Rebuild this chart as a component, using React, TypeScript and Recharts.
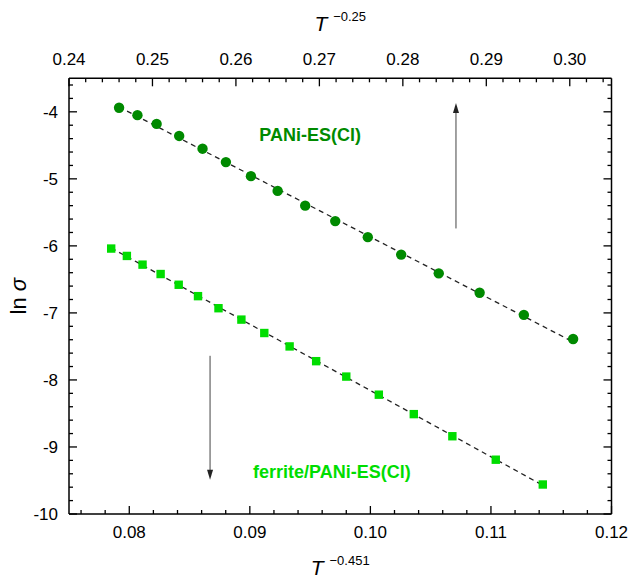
import React from 'react';
import {
  ScatterChart,
  Scatter,
  XAxis,
  YAxis,
  ReferenceLine,
  ReferenceDot
} from 'recharts';

// PANi-ES(Cl): T^-0.25 (top axis) vs ln sigma
const paniX = [0.2460, 0.2482, 0.2505, 0.2532, 0.2560, 0.2588, 0.2618, 0.2650, 0.2683, 0.2719, 0.2758, 0.2798, 0.2843, 0.2892, 0.2945, 0.3004];
const paniY = [-3.94, -4.05, -4.18, -4.36, -4.55, -4.75, -4.96, -5.18, -5.40, -5.63, -5.87, -6.13, -6.41, -6.70, -7.03, -7.39];

// ferrite/PANi-ES(Cl): T^-0.451 (bottom axis) vs ln sigma
const ferriteX = [0.0785, 0.0798, 0.0811, 0.0826, 0.0841, 0.0857, 0.0874, 0.0893, 0.0912, 0.0933, 0.0955, 0.0980, 0.1007, 0.1036, 0.1068, 0.1104, 0.1143];
const ferriteY = [-6.04, -6.15, -6.28, -6.42, -6.58, -6.75, -6.93, -7.10, -7.30, -7.50, -7.72, -7.95, -8.22, -8.51, -8.84, -9.19, -9.56];

// tick labels
const bottomMajor = [0.08, 0.09, 0.10, 0.11, 0.12];
const topMajor = [0.24, 0.25, 0.26, 0.27, 0.28, 0.29, 0.30];
const yMajor = [-10, -9, -8, -7, -6, -5, -4];

const BOTTOM_DOMAIN = [0.075, 0.12];
const TOP_DOMAIN = [0.24, 0.305];
const Y_DOMAIN = [-10, -3.5];

const DARK_GREEN = '#008a00';
const LIGHT_GREEN = '#00dd00';
const FONT = '"Liberation Sans", Arial, sans-serif';

const steps = (from: number, to: number, step: number) => {
  const out: number[] = [];
  for (let v = from; v <= to + 1e-9; v += step) out.push(+v.toFixed(4));
  return out;
};

const bottomTicks = steps(0.076, 0.12, 0.002);
const topTicks = steps(0.24, 0.304, 0.002);
const yTicks = steps(-10, -3.6, 0.2);

const paniData = paniX.map((x, i) => ({ x, y: paniY[i] }));
const ferriteData = ferriteX.map((x, i) => ({ x, y: ferriteY[i] }));

// least-squares line over the data range
const fitLine = (xs: number[], ys: number[]) => {
  const n = xs.length;
  const mx = xs.reduce((a, b) => a + b, 0) / n;
  const my = ys.reduce((a, b) => a + b, 0) / n;
  let sxy = 0;
  let sxx = 0;
  xs.forEach((x, i) => {
    sxy += (x - mx) * (ys[i] - my);
    sxx += (x - mx) * (x - mx);
  });
  const k = sxy / sxx;
  const b = my - k * mx;
  return [xs[0], xs[n - 1]].map(x => ({ x, y: k * x + b }));
};

const paniFit = fitLine(paniX, paniY);
const ferriteFit = fitLine(ferriteX, ferriteY);

const isMajor = (v: number, majors: number[]) => majors.some(m => Math.abs(m - v) < 1e-6);

const makeTick = (side: 'top' | 'bottom' | 'left' | 'right', majors: number[], fmt: (v: number) => string) =>
  (props: any) => {
    const { x, y, payload } = props;
    const v = payload.value;
    const major = isMajor(v, majors);
    const len = major ? 8 : 4;
    let line;
    let label = null;
    if (side === 'bottom') {
      line = <line x1={x} y1={y} x2={x} y2={y - len} />;
      if (major) label = <text x={x} y={y + 24} textAnchor="middle">{fmt(v)}</text>;
    } else if (side === 'top') {
      line = <line x1={x} y1={y} x2={x} y2={y + len} />;
      if (major) label = <text x={x} y={y - 13} textAnchor="middle">{fmt(v)}</text>;
    } else if (side === 'left') {
      line = <line x1={x} y1={y} x2={x + len} y2={y} />;
      if (major) label = <text x={x - 11} y={y + 6} textAnchor="end">{fmt(v)}</text>;
    } else {
      line = <line x1={x} y1={y} x2={x - len} y2={y} />;
    }
    return (
      <g stroke="#000" strokeWidth={1.3}>
        {line}
        {label && (
          <g stroke="none" fill="#000" fontSize={17} fontFamily={FONT}>
            {label}
          </g>
        )}
      </g>
    );
  };

const TopTitle = (props: any) => {
  const { x, width } = props.viewBox;
  const cx = x + width / 2;
  return (
    <text x={cx} y={31} textAnchor="middle" fontFamily={FONT} fill="#000">
      <tspan fontSize={21} fontStyle="italic">T </tspan>
      <tspan fontSize={13} dy={-10}>{'\u22120.25'}</tspan>
    </text>
  );
};

const BottomTitle = (props: any) => {
  const { x, width } = props.viewBox;
  const cx = x + width / 2;
  return (
    <text x={cx} y={575} textAnchor="middle" fontFamily={FONT} fill="#000">
      <tspan fontSize={21} fontStyle="italic">T </tspan>
      <tspan fontSize={13} dy={-10}>{'\u22120.451'}</tspan>
    </text>
  );
};

const LeftTitle = (props: any) => {
  const { y, height } = props.viewBox;
  const cy = y + height / 2;
  return (
    <text
      x={26}
      y={cy}
      transform={`rotate(-90, 26, ${cy})`}
      textAnchor="middle"
      fontFamily={FONT}
      fontSize={22}
      fill="#000"
    >
      <tspan>ln </tspan>
      <tspan fontStyle="italic">{'\u03c3'}</tspan>
    </text>
  );
};

const Dot = (props: any) => <circle cx={props.cx} cy={props.cy} r={5.2} fill={DARK_GREEN} />;
const Square = (props: any) => (
  <rect x={props.cx - 4.2} y={props.cy - 4.2} width={8.4} height={8.4} fill={LIGHT_GREEN} />
);
const NoPoint = () => null;

const ArrowUp = (props: any) => (
  <polygon points={`${props.cx},${props.cy} ${props.cx - 3},${props.cy + 10} ${props.cx + 3},${props.cy + 10}`} fill="#222" />
);
const ArrowDown = (props: any) => (
  <polygon points={`${props.cx},${props.cy} ${props.cx - 3},${props.cy - 10} ${props.cx + 3},${props.cy - 10}`} fill="#222" />
);

const makeText = (text: string, color: string) => (props: any) => (
  <text
    x={props.cx}
    y={props.cy + 6}
    textAnchor="middle"
    fontFamily={FONT}
    fontSize={18}
    fontWeight="bold"
    fill={color}
  >
    {text}
  </text>
);

const fmt2 = (v: number) => v.toFixed(2);
const fmt0 = (v: number) => String(v);

export default function App() {
  return (
    <div style={{ position: 'absolute', left: 0, top: 0, background: '#fff' }}>
      <ScatterChart width={630} height={579} margin={{ top: 0, right: 0, bottom: 0, left: 0 }}>
        <XAxis
          xAxisId="bottom"
          orientation="bottom"
          type="number"
          dataKey="x"
          domain={BOTTOM_DOMAIN}
          allowDataOverflow
          ticks={bottomTicks}
          interval={0}
          height={65}
          tickSize={0}
          tickMargin={0}
          tickLine={false}
          tick={makeTick('bottom', bottomMajor, fmt2)}
          axisLine={{ stroke: '#000', strokeWidth: 1.5 }}
          label={BottomTitle}
        />
        <XAxis
          xAxisId="top"
          orientation="top"
          type="number"
          dataKey="x"
          domain={TOP_DOMAIN}
          allowDataOverflow
          ticks={topTicks}
          interval={0}
          height={78.3}
          tickSize={0}
          tickMargin={0}
          tickLine={false}
          tick={makeTick('top', topMajor, fmt2)}
          axisLine={{ stroke: '#000', strokeWidth: 1.5 }}
          label={TopTitle}
        />
        <YAxis
          yAxisId="left"
          orientation="left"
          type="number"
          dataKey="y"
          domain={Y_DOMAIN}
          allowDataOverflow
          ticks={yTicks}
          interval={0}
          width={69}
          tickSize={0}
          tickMargin={0}
          tickLine={false}
          tick={makeTick('left', yMajor, fmt0)}
          axisLine={{ stroke: '#000', strokeWidth: 1.5 }}
          label={LeftTitle}
        />
        <YAxis
          yAxisId="right"
          orientation="right"
          type="number"
          domain={Y_DOMAIN}
          allowDataOverflow
          ticks={yTicks}
          interval={0}
          width={18.5}
          tickSize={0}
          tickMargin={0}
          tickLine={false}
          tick={makeTick('right', yMajor, fmt0)}
          axisLine={{ stroke: '#000', strokeWidth: 1.5 }}
        />

        <Scatter
          xAxisId="top"
          yAxisId="left"
          data={paniFit}
          line={{ stroke: '#222', strokeWidth: 1.3, strokeDasharray: '5 4' }}
          shape={NoPoint}
          isAnimationActive={false}
        />
        <Scatter
          xAxisId="bottom"
          yAxisId="left"
          data={ferriteFit}
          line={{ stroke: '#222', strokeWidth: 1.3, strokeDasharray: '5 4' }}
          shape={NoPoint}
          isAnimationActive={false}
        />
        <Scatter
          name="PANi-ES(Cl)"
          xAxisId="top"
          yAxisId="left"
          data={paniData}
          shape={Dot}
          isAnimationActive={false}
        />
        <Scatter
          name="ferrite/PANi-ES(Cl)"
          xAxisId="bottom"
          yAxisId="left"
          data={ferriteData}
          shape={Square}
          isAnimationActive={false}
        />

        <ReferenceLine
          xAxisId="bottom"
          yAxisId="left"
          segment={[{ x: 0.1071, y: -5.74 }, { x: 0.1071, y: -4.0 }]}
          stroke="#444"
          strokeWidth={1}
        />
        <ReferenceDot xAxisId="bottom" yAxisId="left" x={0.1071} y={-3.87} r={0} shape={ArrowUp} />
        <ReferenceLine
          xAxisId="bottom"
          yAxisId="left"
          segment={[{ x: 0.0867, y: -7.64 }, { x: 0.0867, y: -9.36 }]}
          stroke="#444"
          strokeWidth={1}
        />
        <ReferenceDot xAxisId="bottom" yAxisId="left" x={0.0867} y={-9.49} r={0} shape={ArrowDown} />

        <ReferenceDot
          xAxisId="bottom"
          yAxisId="left"
          x={0.0950}
          y={-4.34}
          r={0}
          shape={makeText('PANi-ES(Cl)', DARK_GREEN)}
        />
        <ReferenceDot
          xAxisId="bottom"
          yAxisId="left"
          x={0.0968}
          y={-9.37}
          r={0}
          shape={makeText('ferrite/PANi-ES(Cl)', LIGHT_GREEN)}
        />
      </ScatterChart>
    </div>
  );
}
